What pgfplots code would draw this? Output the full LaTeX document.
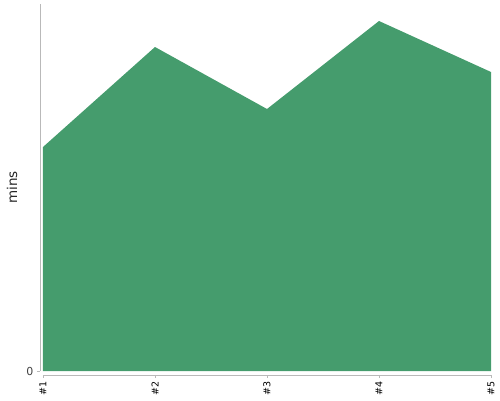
\documentclass[border=0pt]{standalone}
\usepackage{fontspec}
\setmainfont{DejaVu Sans}
\usepackage{pgfplots}
\pgfplotsset{compat=1.18}
\definecolor{areagreen}{RGB}{69,156,109}
\definecolor{axisgray}{RGB}{185,185,185}
\begin{document}
\begin{tikzpicture}
\path[use as bounding box] (-43pt,-29pt) rectangle (457pt,371pt);
\begin{axis}[
    at={(0,0)}, anchor=south west,
    scale only axis,
    width=448pt, height=367pt,
    xmin=1, xmax=5, ymin=0, ymax=367,
    axis lines=left,
    axis line style={-, axisgray, line width=0.8pt},
    axis y line shift=3pt,
    axis x line shift=4pt,
    tick align=outside,
    major tick length=3pt,
    tick style={axisgray, line width=0.8pt},
    xtick={1,2,3,4,5},
    xticklabels={\#1,\#2,\#3,\#4,\#5},
    xticklabel style={rotate=90, anchor=east, font=\fontsize{9.5}{10}\selectfont, text=black},
    ytick={0},
    yticklabel style={font=\fontsize{11}{12}\selectfont, text=black!75},
    /pgf/number format/assume math mode=true,
    ylabel={mins},
    every axis y label/.style={at={(axis description cs:-0.069,0.5)}, rotate=90, anchor=center, font=\fontsize{13.5}{14}\selectfont, text=black!85},
]
\addplot[fill=areagreen, draw=none] coordinates {
    (1,224) (2,324) (3,262) (4,350) (5,299)
} \closedcycle;
\end{axis}
\end{tikzpicture}
\end{document}
